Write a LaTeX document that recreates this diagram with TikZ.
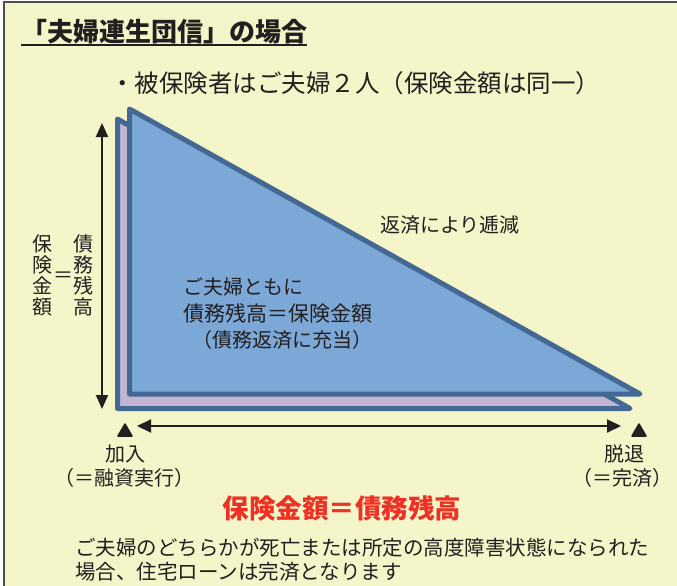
\documentclass[tikz,border=0pt]{standalone}
\usepackage{fontspec}
\newfontfamily\jp{Noto Sans CJK JP}
\usetikzlibrary{arrows.meta}
\definecolor{bgy}{HTML}{F4F5C9}
\definecolor{tri}{HTML}{7CA8D8}
\definecolor{triedge}{HTML}{436894}
\definecolor{lav}{HTML}{C1B5D3}
\definecolor{ink}{HTML}{231F20}
\definecolor{redt}{HTML}{EE3124}
\tikzset{
  txt/.style={font=\jp\fontsize{20}{26}\selectfont, text=ink, inner sep=0pt, align=center},
  shape3/.style={line width=5pt, draw=triedge, line join=round},
  marker/.style={fill=ink, draw=ink, line width=1.5pt, line join=round},
  arr/.style={line width=2pt, draw=ink}
}
\begin{document}
\begin{tikzpicture}[x=1pt,y=-1pt]
\useasboundingbox (0,0) rectangle (677,586);
\fill[white] (0,0) rectangle (677,586);
\fill[bgy] (4,2) rectangle (677,586);
\draw[line width=1.5pt, draw=ink!80] (4,586) -- (4,2) -- (677,2);

% title
\node[font=\jp\bfseries\fontsize{26}{28}\selectfont, text=ink, inner sep=0pt, anchor=west] (title) at (21,32) {「夫婦連生団信」の場合};
\draw[line width=1.5pt, ink] (title.south west |- 0,45) coordinate (ul1) -- (title.south east |- 0,45) coordinate (ul2);

\node[txt, font=\jp\fontsize{24.5}{26}\selectfont, anchor=west] (sub) at (110,83) {・被保険者はご夫婦２人（保険金額は同一）};

% triangles
\coordinate (b1) at (117.5,119);
\coordinate (b2) at (117.5,408.5);
\coordinate (b3) at (630,408.5);
\coordinate (f1) at (129.5,109);
\coordinate (f2) at (129.5,394);
\coordinate (f3) at (640,394);
\filldraw[shape3, fill=lav] (b1) -- (b2) -- (b3) -- cycle;
\filldraw[shape3, fill=tri] (f1) -- (f2) -- (f3) -- cycle;

% vertical arrow
\coordinate (vt) at (102,123);
\coordinate (vb) at (102,409);
\draw[arr, {Triangle[length=14pt,width=12pt]}-{Triangle[length=14pt,width=12pt]}] (vt) -- (vb);

% horizontal arrow
\coordinate (hl) at (137,426);
\coordinate (hr) at (621,426);
\draw[arr, {Triangle[length=14pt,width=13pt]}-{Triangle[length=14pt,width=13pt]}] (hl) -- (hr);

% markers
\node[draw=none, inner sep=0pt] (m1) at (125,431) {};
\node[draw=none, inner sep=0pt] (m2) at (639,431) {};
\filldraw[marker] ([shift={(0,-7)}]m1.center) -- ([shift={(-7,5)}]m1.center) -- ([shift={(7,5)}]m1.center) -- cycle;
\filldraw[marker] ([shift={(0,-7)}]m2.center) -- ([shift={(-7,5)}]m2.center) -- ([shift={(7,5)}]m2.center) -- cycle;

% labels under markers
\node[txt] (join) at (125,454) {加入};
\node[txt] (joinb) at (124,478) {（＝融資実行）};
\node[txt] (exit) at (624,454) {脱退};
\node[txt] (exitb) at (622,478) {（＝完済）};

% left vertical text
\node[txt, font=\jp\fontsize{20}{21}\selectfont] (v1) at (42,275) {保\\険\\金\\額};
\node[txt, font=\jp\fontsize{20}{21}\selectfont] (veq) at (63,277) {＝};
\node[txt, font=\jp\fontsize{20}{21}\selectfont] (v2) at (83,275) {債\\務\\残\\高};

% inner labels
\node[txt, anchor=west] (dec) at (380,225) {返済により逓減};
\node[txt, anchor=west] (in1) at (183,287) {ご夫婦ともに};
\node[txt, font=\jp\fontsize{21}{26}\selectfont, anchor=west] (in2) at (183,313) {債務残高＝保険金額};
\node[txt, anchor=west] (in3) at (192,340) {（債務返済に充当）};

% red
\node[txt, font=\jp\bfseries\fontsize{26.5}{28}\selectfont, text=redt] (red) at (342,508) {保険金額＝債務残高};

% bottom
\node[txt, font=\jp\fontsize{20.5}{26}\selectfont, anchor=west] (bl1) at (75,548) {ご夫婦のどちらかが死亡または所定の高度障害状態になられた};
\node[txt, font=\jp\fontsize{20.5}{26}\selectfont, anchor=west] (bl2) at (75,572) {場合、住宅ローンは完済となります};
\end{tikzpicture}
\end{document}
